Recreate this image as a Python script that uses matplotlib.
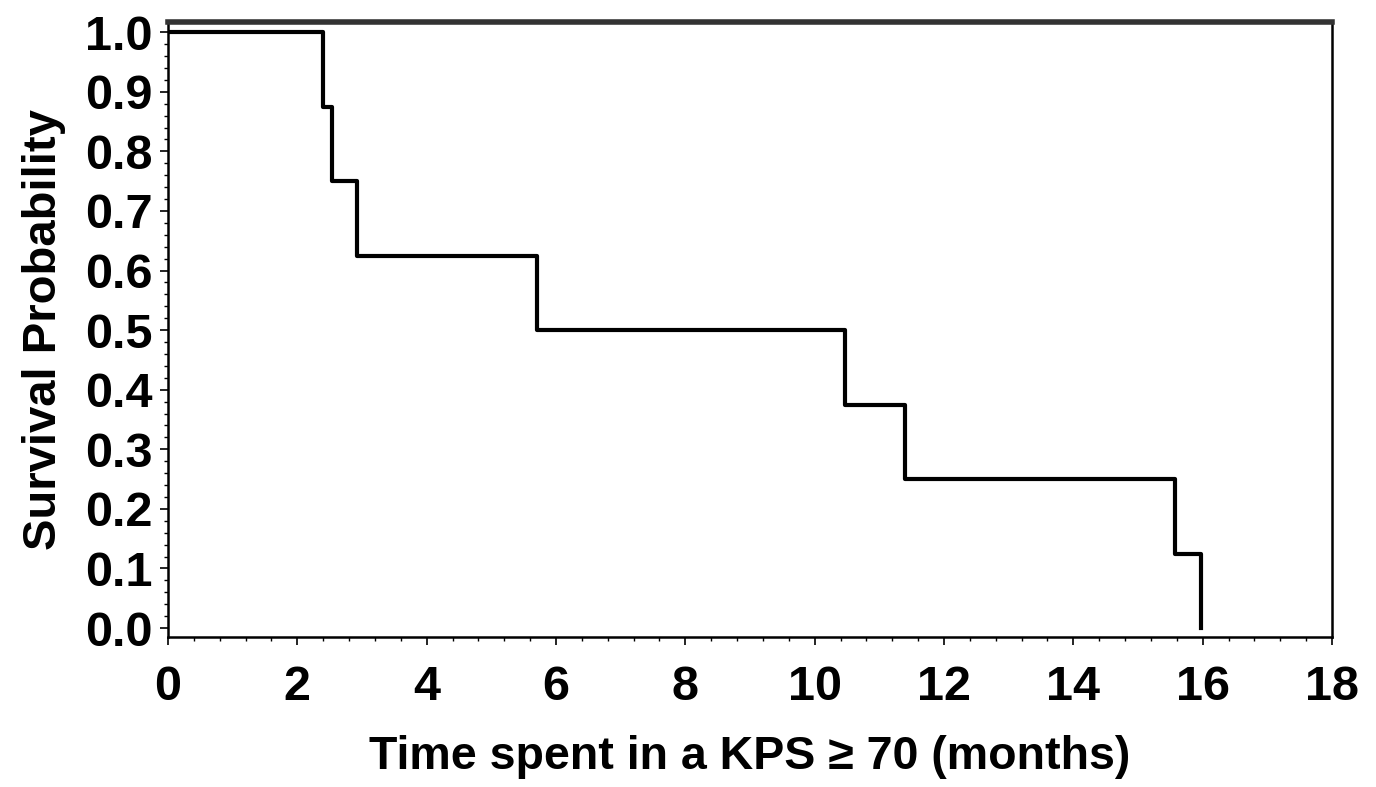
import numpy as np
import matplotlib
matplotlib.use("Agg")
import matplotlib.pyplot as plt
from matplotlib.ticker import MultipleLocator

# Kaplan-Meier step data
event_times = [0.0, 2.40, 2.53, 2.93, 5.70, 10.47, 11.40, 15.57, 15.98]
survival = [1.0, 0.875, 0.75, 0.625, 0.5, 0.375, 0.25, 0.125, 0.0]

x_ticks = [0, 2, 4, 6, 8, 10, 12, 14, 16, 18]
y_ticks = [0.0, 0.1, 0.2, 0.3, 0.4, 0.5, 0.6, 0.7, 0.8, 0.9, 1.0]

plt.rcParams['font.family'] = ['Liberation Sans', 'DejaVu Sans']
plt.rcParams['font.weight'] = 'bold'

fig = plt.figure(figsize=(13.76, 7.87), dpi=100)
ax = fig.add_axes([0.1221, 0.1906, 0.8459, 0.7814])

ax.step(event_times, survival, where="post", color="black", linewidth=3.0)

ax.set_xlim(0, 18)
ax.set_ylim(-0.015, 1.017)
ax.set_xticks(x_ticks)
ax.set_yticks(y_ticks)
ax.set_yticklabels([f"{v:.1f}" for v in y_ticks])
ax.xaxis.set_minor_locator(MultipleLocator(0.4))
ax.yaxis.set_minor_locator(MultipleLocator(0.02))

ax.tick_params(axis="both", which="major", direction="out", length=6, width=1.2,
               labelsize=35, pad=14)
ax.tick_params(axis="y", which="major", pad=5)
ax.tick_params(axis="both", which="minor", direction="out", length=3, width=1.0)

for side in ["left", "bottom", "right"]:
    ax.spines[side].set_linewidth(1.8)
ax.spines["top"].set_linewidth(4)
ax.spines["top"].set_color("#333333")

ax.set_xlabel("Time spent in a KPS ≥ 70 (months)", fontsize=33.5, fontweight="bold", labelpad=18)
ax.set_ylabel("Survival Probability", fontsize=34, fontweight="bold", labelpad=14)

fig.savefig("out.png", dpi=100)
